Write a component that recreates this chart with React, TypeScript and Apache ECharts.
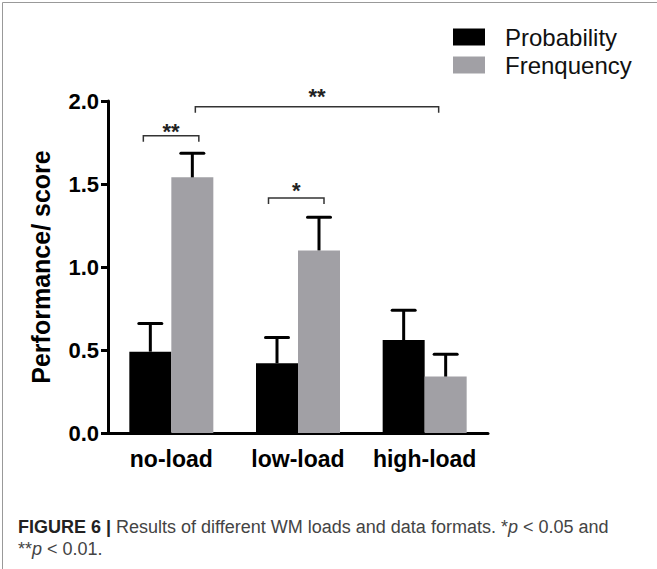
import React, { useEffect, useRef } from "react";
import * as echarts from "echarts";

const categories = ["no-load", "low-load", "high-load"];
const seriesNames = ["Probability", "Frenquency"];
const probabilityMean = [0.49, 0.42, 0.56];
const frequencyMean = [1.54, 1.1, 0.34];
const probabilityErr = [0.17, 0.155, 0.18];
const frequencyErr = [0.145, 0.2, 0.135];
const yTicks = [0, 0.5, 1.0, 1.5, 2.0];

// significance brackets
const sigFrom = [0, 1, 0];
const sigTo = [0, 1, 2];
const sigLevel = [1.79, 1.415, 1.965];
const sigLabel = ["**", "*", "**"];

// layout (pixels)
const sigFromOffset = [-28, -29.5, 24];
const sigToOffset = [27.5, 26, 14];
const sigTextGap = [4, 8, 10];

const BAR_W = 42;
const FONT = "'Liberation Sans', Arial, Helvetica, sans-serif";

export default function App() {
  const ref = useRef<HTMLDivElement>(null);
  useEffect(() => {
    document.body.style.margin = "0";
    const chart = echarts.init(ref.current!, undefined, { renderer: "svg" });

    const errSeries = (means: number[], errs: number[], offset: number, name: string) => ({
      type: "custom",
      name,
      coordinateSystem: "cartesian2d",
      z: 5,
      silent: true,
      data: means.map((m, i) => [i, m, m + errs[i]]),
      renderItem: (_p: any, api: any) => {
        const i = api.value(0);
        const base = api.coord([i, api.value(1)]);
        const top = api.coord([i, api.value(2)]);
        const x = base[0] + offset;
        return {
          type: "group",
          children: [
            { type: "line", shape: { x1: x, y1: base[1], x2: x, y2: top[1] }, style: { stroke: "#000", lineWidth: 3 } },
            { type: "line", shape: { x1: x - 11.5, y1: top[1], x2: x + 11.5, y2: top[1] }, style: { stroke: "#000", lineWidth: 3, lineCap: "round" } },
          ],
        };
      },
    });

    const option: any = {
      animation: false,
      backgroundColor: "#fff",
      textStyle: { fontFamily: FONT },
      grid: { left: 108, right: 169, top: 101, bottom: 136, containLabel: false },
      legend: {
        data: seriesNames,
        orient: "vertical",
        left: 453,
        top: 25,
        padding: 0,
        icon: "rect",
        itemWidth: 32,
        itemHeight: 17,
        itemGap: 4,
        textStyle: { fontFamily: FONT, fontSize: 24, color: "#111", padding: [0, 0, 0, 15] },
      },
      xAxis: {
        type: "category",
        data: categories,
        axisLine: { lineStyle: { color: "#000", width: 3 } },
        axisTick: { alignWithLabel: true, length: 8, lineStyle: { color: "#000", width: 3 } },
        axisLabel: { interval: 0, fontFamily: FONT, fontSize: 23, fontWeight: "bold", color: "#000", margin: 14 },
      },
      yAxis: {
        type: "value",
        min: 0,
        max: 2,
        interval: 0.5,
        name: "Performance/ score",
        nameLocation: "middle",
        nameGap: 55,
        nameTextStyle: { fontFamily: FONT, fontSize: 25, fontWeight: "bold", color: "#000" },
        axisLine: { show: true, lineStyle: { color: "#000", width: 3 } },
        axisTick: { show: true, length: 7, lineStyle: { color: "#000", width: 3 } },
        splitLine: { show: false },
        axisLabel: {
          fontFamily: FONT,
          fontSize: 22,
          fontWeight: "bold",
          color: "#000",
          margin: 9,
          customValues: yTicks,
          formatter: (v: number) => v.toFixed(1),
        },
      },
      series: [
        {
          type: "bar",
          name: seriesNames[0],
          data: probabilityMean,
          barWidth: BAR_W,
          barGap: "0%",
          itemStyle: { color: "#000" },
        },
        {
          type: "bar",
          name: seriesNames[1],
          data: frequencyMean,
          barWidth: BAR_W,
          barGap: "0%",
          itemStyle: { color: "#a1a0a5" },
        },
        errSeries(probabilityMean, probabilityErr, -BAR_W / 2, "errP"),
        errSeries(frequencyMean, frequencyErr, BAR_W / 2, "errF"),
        {
          type: "custom",
          name: "sig",
          coordinateSystem: "cartesian2d",
          z: 6,
          silent: true,
          data: sigLevel.map((lv, k) => [sigFrom[k], lv, sigTo[k], k]),
          renderItem: (_p: any, api: any) => {
            const k = api.value(3);
            const a = api.coord([api.value(0), api.value(1)]);
            const b = api.coord([api.value(2), api.value(1)]);
            const x1 = a[0] + sigFromOffset[k];
            const x2 = b[0] + sigToOffset[k];
            const y = a[1];
            return {
              type: "group",
              children: [
                {
                  type: "polyline",
                  shape: { points: [[x1, y + 6], [x1, y], [x2, y], [x2, y + 6]] },
                  style: { stroke: "#333", lineWidth: 1.5, fill: null },
                },
                {
                  type: "text",
                  x: (x1 + x2) / 2,
                  y: y - sigTextGap[k],
                  style: {
                    text: sigLabel[k],
                    fontFamily: FONT,
                    fontSize: 22,
                    fontWeight: "bold",
                    fill: "#222",
                    align: "center",
                    verticalAlign: "middle",
                  },
                },
              ],
            };
          },
        },
      ],
      graphic: [
        { type: "line", shape: { x1: 2.5, y1: 2.5, x2: 657, y2: 2.5 }, style: { stroke: "#999", lineWidth: 1 } },
        { type: "line", shape: { x1: 2.5, y1: 2.5, x2: 2.5, y2: 569 }, style: { stroke: "#999", lineWidth: 1 } },
        {
          type: "text",
          left: 18,
          top: 516,
          style: {
            text: "{b|FIGURE 6 |} Results of different WM loads and data formats. *{i|p} < 0.05 and\n**{i|p} < 0.01.",
            fontFamily: FONT,
            fontSize: 18,
            lineHeight: 22,
            fill: "#444",
            rich: {
              b: { fontFamily: FONT, fontSize: 18, fontWeight: "bold", fill: "#222", lineHeight: 22 },
              i: { fontFamily: FONT, fontSize: 18, fontStyle: "italic", fill: "#444", lineHeight: 22 },
            },
          },
        },
      ],
    };
    chart.setOption(option);
    return () => chart.dispose();
  }, []);
  return <div ref={ref} style={{ width: 657, height: 569 }} />;
}
